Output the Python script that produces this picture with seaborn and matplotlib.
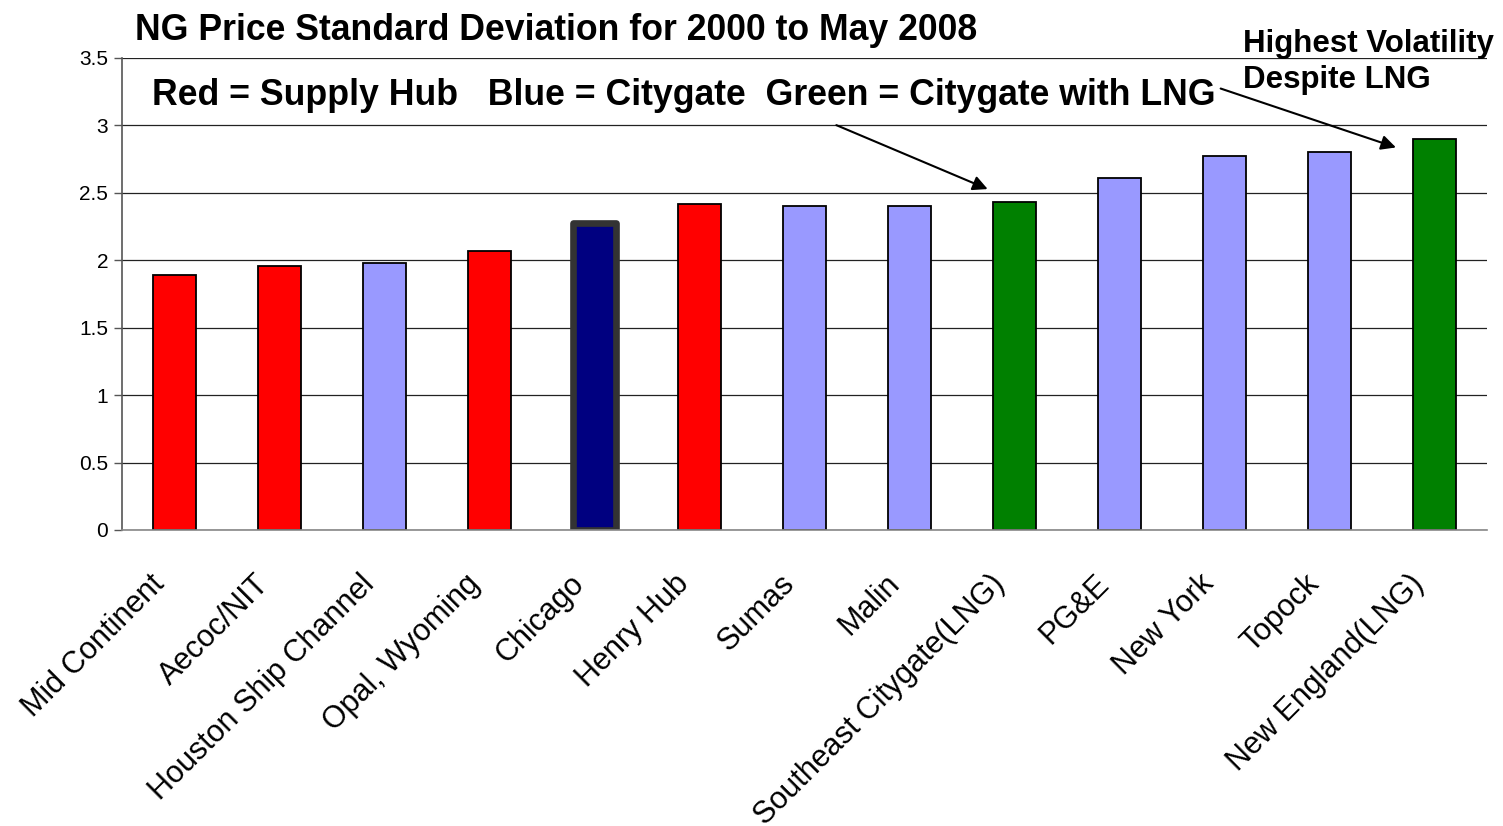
import numpy as np
import pandas as pd
import matplotlib
matplotlib.use("Agg")
import matplotlib.pyplot as plt
import seaborn as sns

# data
hubs = ["Mid Continent", "Aecoc/NIT", "Houston Ship Channel", "Opal, Wyoming",
        "Chicago", "Henry Hub", "Sumas", "Malin", "Southeast Citygate(LNG)",
        "PG&E", "New York", "Topock", "New England(LNG)"]
std_dev = [1.89, 1.96, 1.98, 2.07, 2.28, 2.42, 2.40, 2.40, 2.43, 2.61, 2.77, 2.80, 2.90]
hub_type = ["supply", "supply", "citygate", "supply", "chicago", "supply", "citygate",
            "citygate", "lng", "citygate", "citygate", "citygate", "lng"]
type_colors = {"supply": "#FF0000", "citygate": "#9999FF", "chicago": "#000080", "lng": "#008000"}
y_ticks = [0, 0.5, 1, 1.5, 2, 2.5, 3, 3.5]

df = pd.DataFrame({"hub": hubs, "std": std_dev, "kind": hub_type})

sns.set_style("white")
plt.rcParams["font.family"] = ["Liberation Sans", "DejaVu Sans"]
plt.rcParams["text.color"] = "black"
plt.rcParams["xtick.color"] = "black"
plt.rcParams["ytick.color"] = "black"

fig = plt.figure(figsize=(15.03, 8.26), dpi=100)
ax = fig.add_axes([0.0812, 0.3584, 0.9080, 0.5714])

sns.barplot(data=df, x="hub", y="std", hue="hub",
            palette=[type_colors[k] for k in hub_type], legend=False, saturation=1,
            width=0.41, edgecolor="black", linewidth=1.3, ax=ax)

# Chicago bar has a heavy dark border
for patch, kind in zip(ax.patches, hub_type):
    if kind == "chicago":
        patch.set_edgecolor("#333333")
        patch.set_linewidth(4.8)
        patch.set_joinstyle("round")

ax.set_xlim(-0.5, len(hubs) - 0.5)
ax.set_ylim(0, 3.5)
ax.set_yticks(y_ticks)
ax.set_yticklabels([f"{t:g}" for t in y_ticks], fontsize=15)
ax.yaxis.grid(True, color="#222222", linewidth=0.9)
ax.set_axisbelow(True)

# labels sit a little left of the bar centres, like the Excel original
ax.set_xticks(np.arange(len(hubs)) - 0.24)
ax.set_xticklabels(hubs, rotation=45, ha="right", va="top",
                   rotation_mode="anchor", fontsize=22)
ax.set_xticks(np.arange(-0.5, len(hubs), 1.0), minor=True)
ax.tick_params(axis="x", which="major", length=0, pad=28)
ax.tick_params(axis="x", which="minor", length=9, width=1, color="#555555", direction="out")
ax.tick_params(axis="y", length=6, width=1, color="#555555", direction="out", left=True, pad=4)

ax.set_xlabel("")
ax.set_ylabel("")
for side in ["top", "right"]:
    ax.spines[side].set_visible(False)
ax.spines["left"].set_color("#555555")
ax.spines["bottom"].set_color("#888888")
ax.spines["left"].set_linewidth(1.2)
ax.spines["bottom"].set_linewidth(1.2)

fig.text(0.0898, 0.963, "NG Price Standard Deviation for 2000 to May 2008",
         fontsize=25.7, fontweight="bold", ha="left", va="center")
ax.text(0.022, 0.921, "Red = Supply Hub   Blue = Citygate  Green = Citygate with LNG",
        transform=ax.transAxes, fontsize=25.7, fontweight="bold", ha="left", va="center")
fig.text(0.827, 0.925, "Highest Volatility\nDespite LNG", fontsize=22.5,
         fontweight="bold", ha="left", va="center", linespacing=1.25)

arrow = dict(arrowstyle="-|>", color="black", lw=1.5, mutation_scale=22)
ax.annotate("", xy=(7.77, 2.52), xytext=(6.28, 3.01), arrowprops=arrow)
ax.annotate("", xy=(11.66, 2.83), xytext=(9.94, 3.28), arrowprops=arrow)

fig.savefig("out.png", dpi=100, facecolor="white")
